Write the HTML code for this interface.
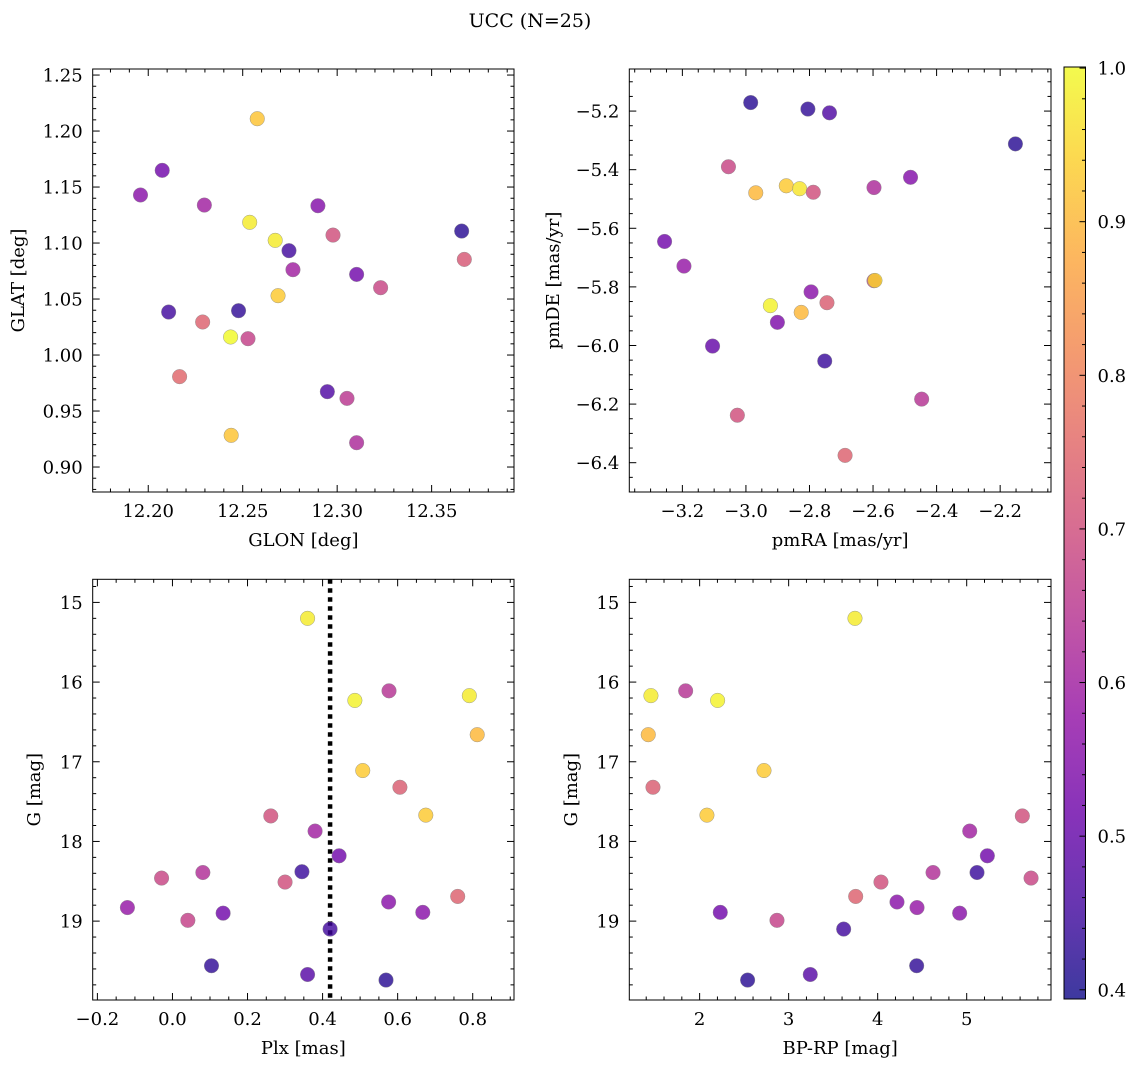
<!DOCTYPE html>
<html><head><meta charset="utf-8">
<style>
html,body{margin:0;padding:0;background:#fff;}
svg{display:block;}
text{font-family:"DejaVu Serif","Liberation Serif",serif;fill:#000;}
</style></head>
<body>
<svg id="fig" width="1136" height="1067" viewBox="0 0 1136 1067" xmlns="http://www.w3.org/2000/svg">
<defs>
<linearGradient id="cmapgrad" x1="0" y1="1" x2="0" y2="0"></linearGradient>
</defs>
<text x="530" y="27" font-size="19" text-anchor="middle">UCC (N=25)</text>
</svg>
<script>
// Panel 1: GLON vs GLAT
const glonP1 = [12.2577,12.2074,12.1959,12.2297,12.2898,12.2537,12.2978,12.3659,12.2672,12.2745,12.2766,12.3673,12.3103,12.3230,12.2687,12.2108,12.2478,12.2288,12.2436,12.2528,12.2166,12.2948,12.3052,12.2439,12.3103];
const glatP1 = [1.211,1.1649,1.1429,1.1339,1.1333,1.1185,1.1071,1.1107,1.1024,1.0932,1.0762,1.0854,1.072,1.0601,1.053,1.0384,1.0396,1.0295,1.0161,1.0146,0.9807,0.9673,0.9613,0.9283,0.9217];
const probP1 = [0.92,0.52,0.56,0.60,0.55,0.98,0.70,0.42,0.98,0.45,0.60,0.72,0.52,0.68,0.93,0.45,0.43,0.74,1.00,0.67,0.75,0.47,0.65,0.92,0.62];
// Panel 2: pmRA vs pmDE
const pmraP2 = [-2.985,-2.805,-2.737,-2.152,-3.055,-2.482,-2.597,-2.873,-2.831,-2.788,-2.969,-3.256,-3.195,-2.597,-2.594,-2.795,-2.745,-2.923,-2.826,-2.901,-3.105,-2.752,-2.447,-3.027,-2.688];
const pmdeP2 = [-5.171,-5.193,-5.206,-5.312,-5.390,-5.426,-5.461,-5.455,-5.465,-5.477,-5.479,-5.645,-5.729,-5.779,-5.778,-5.817,-5.854,-5.864,-5.887,-5.921,-6.002,-6.053,-6.183,-6.238,-6.375];
const probP2 = [0.42,0.43,0.47,0.42,0.68,0.55,0.62,0.93,0.97,0.70,0.90,0.52,0.58,0.68,0.95,0.56,0.73,0.99,0.90,0.54,0.50,0.44,0.64,0.70,0.74];
// Panel 3: Plx vs G
const plxP3 = [0.360,0.577,0.486,0.791,0.812,0.507,0.606,0.262,0.675,0.380,0.444,-0.029,0.081,0.300,0.345,-0.120,0.041,0.135,0.576,0.667,0.760,0.420,0.104,0.360,0.569];
const gP3 = [15.20,16.11,16.23,16.17,16.66,17.11,17.32,17.68,17.67,17.87,18.18,18.46,18.39,18.51,18.38,18.83,18.99,18.90,18.76,18.89,18.69,19.10,19.56,19.67,19.74];
const probP3 = [0.98,0.64,0.99,0.98,0.90,0.93,0.73,0.70,0.93,0.60,0.52,0.68,0.63,0.70,0.44,0.58,0.67,0.52,0.56,0.56,0.74,0.45,0.43,0.48,0.42];
const plxCut = [0.42];
// Panel 4: BP-RP vs G
const bprpP4 = [3.745,1.453,1.843,2.202,1.423,2.723,1.476,2.082,5.625,5.034,5.232,5.116,4.622,5.723,4.037,3.753,4.217,4.442,4.921,2.232,2.869,3.618,4.438,3.243,2.539];
const gP4 = [15.20,16.17,16.11,16.23,16.66,17.11,17.32,17.67,17.68,17.87,18.18,18.39,18.39,18.46,18.51,18.69,18.76,18.83,18.90,18.89,18.99,19.10,19.56,19.67,19.74];
const probP4 = [0.98,0.98,0.64,0.99,0.90,0.93,0.73,0.93,0.70,0.60,0.52,0.44,0.63,0.68,0.70,0.74,0.56,0.58,0.56,0.52,0.67,0.45,0.43,0.48,0.42];
// Colorbar ticks
const cbTicks = [0.4,0.5,0.6,0.7,0.8,0.9,1.0];

const NS = 'http://www.w3.org/2000/svg';
const svg = document.getElementById('fig');
const VMIN = 0.394, VMAX = 1.0007;
const FS = 18;
const plasma = ['#0d0887','#41049d','#6a00a8','#8f0da4','#b12a90','#cc4778','#e16462','#f2844b','#fca636','#fcce25','#f0f921'];
function hex2rgb(h){return [parseInt(h.slice(1,3),16),parseInt(h.slice(3,5),16),parseInt(h.slice(5,7),16)];}
function cmap(v){
  let t=(v-VMIN)/(VMAX-VMIN); t=Math.max(0,Math.min(1,t));
  const f=t*10, i=Math.min(9,Math.floor(f)), r=f-i;
  const a=hex2rgb(plasma[i]), b=hex2rgb(plasma[i+1]);
  const c=a.map((x,k)=>Math.round(x+(b[k]-x)*r));
  return 'rgb('+c.join(',')+')';
}
function el(tag, attrs){const e=document.createElementNS(NS,tag);for(const k in attrs)e.setAttribute(k,attrs[k]);return e;}
function fmt(v,d){let s=v.toFixed(d);if(v<0)s='\u2212'+s.slice(1);return s;}

function panel(cfg){
  const g=el('g',{});
  
  
  svg.appendChild(g);
  const {L,R,T,B}=cfg;
  const sx=v=>L+(v-cfg.x0)/(cfg.x1-cfg.x0)*(R-L);
  const sy=cfg.yinv ? (v=>T+(v-cfg.y0)/(cfg.y1-cfg.y0)*(B-T)) : (v=>B-(v-cfg.y0)/(cfg.y1-cfg.y0)*(B-T));
  const tk=el('g',{stroke:'#000','stroke-width':1});
  
  
  g.appendChild(tk);
  const xlo=Math.min(cfg.x0,cfg.x1), xhi=Math.max(cfg.x0,cfg.x1);
  for(let k=Math.ceil(xlo/cfg.xmin-1e-6);k*cfg.xmin<=xhi+1e-9;k++){
    const v=k*cfg.xmin, x=sx(v);
    const major=Math.abs(v/cfg.xmaj-Math.round(v/cfg.xmaj))<1e-4;
    const len=major?7:3.5;
    tk.appendChild(el('line',{x1:x,x2:x,y1:B,y2:B-len}));
    tk.appendChild(el('line',{x1:x,x2:x,y1:T,y2:T+len}));
    if(major){
      const t=el('text',{x:x,y:B+25,'font-size':FS,'text-anchor':'middle'});
      
      
      t.textContent=fmt(v,cfg.xdec); g.appendChild(t);
    }
  }
  const ylo=Math.min(cfg.y0,cfg.y1), yhi=Math.max(cfg.y0,cfg.y1);
  for(let k=Math.ceil(ylo/cfg.ymin-1e-6);k*cfg.ymin<=yhi+1e-9;k++){
    const v=k*cfg.ymin, y=sy(v);
    const major=Math.abs(v/cfg.ymaj-Math.round(v/cfg.ymaj))<1e-4;
    const len=major?7:3.5;
    tk.appendChild(el('line',{x1:L,x2:L+len,y1:y,y2:y}));
    tk.appendChild(el('line',{x1:R,x2:R-len,y1:y,y2:y}));
    if(major){
      const t=el('text',{x:L-10,y:y+6.5,'font-size':FS,'text-anchor':'end'});
      
      
      t.textContent=fmt(v,cfg.ydec); g.appendChild(t);
    }
  }
  if(cfg.vline){
    cfg.vline.forEach(v=>{
      const ln=el('line',{x1:sx(v),x2:sx(v),y1:T,y2:B,stroke:'#000','stroke-width':4.5,'stroke-dasharray':'4.5 4.5'});
      
      
      g.appendChild(ln);
    });
  }
  for(let i=0;i<cfg.xs.length;i++){
    const c=el('circle',{cx:sx(cfg.xs[i]),cy:sy(cfg.ys[i]),r:7.3,fill:cmap(cfg.cs[i]),'fill-opacity':0.8,stroke:'#888','stroke-width':0.5,'stroke-opacity':0.8});
    
    
    g.appendChild(c);
  }
  const fr=el('rect',{x:L,y:T,width:R-L,height:B-T,fill:'none',stroke:'#000','stroke-width':1});
  
  
  g.appendChild(fr);
  const xl=el('text',{x:(L+R)/2,y:B+54,'font-size':FS,'text-anchor':'middle'});
  
  
  xl.textContent=cfg.xlabel; g.appendChild(xl);
  const yx=cfg.ylabX, yy=(T+B)/2;
  const yl=el('text',{x:yx,y:yy,'font-size':FS,'text-anchor':'middle',transform:'rotate(-90 '+yx+' '+yy+')'});
  
  
  yl.textContent=cfg.ylabel; g.appendChild(yl);
}

panel({name:'glon-glat-panel',L:92.7,R:514,T:69,B:492,x0:12.1706,x1:12.3936,y0:0.8777,y1:1.2554,xmaj:0.05,xmin:0.01,ymaj:0.05,ymin:0.01,xdec:2,ydec:2,xs:glonP1,ys:glatP1,cs:probP1,xlabel:'GLON [deg]',ylabel:'GLAT [deg]',ylabX:24});
panel({name:'pm-panel',L:629.3,R:1051,T:69,B:492,x0:-3.367,x1:-2.04,y0:-6.5,y1:-5.0564,xmaj:0.2,xmin:0.05,ymaj:0.2,ymin:0.05,xdec:1,ydec:1,xs:pmraP2,ys:pmdeP2,cs:probP2,xlabel:'pmRA [mas/yr]',ylabel:'pmDE [mas/yr]',ylabX:559});
panel({name:'plx-g-panel',L:92.7,R:514,T:579.3,B:1000,x0:-0.2125,x1:0.91,y0:14.71,y1:19.99,yinv:true,xmaj:0.2,xmin:0.05,ymaj:1,ymin:0.2,xdec:1,ydec:0,xs:plxP3,ys:gP3,cs:probP3,vline:plxCut,xlabel:'Plx [mas]',ylabel:'G [mag]',ylabX:40});
panel({name:'cmd-panel',L:629.3,R:1051,T:579.3,B:1000,x0:1.21,x1:5.947,y0:14.71,y1:19.99,yinv:true,xmaj:1,xmin:0.2,ymaj:1,ymin:0.2,xdec:0,ydec:0,xs:bprpP4,ys:gP4,cs:probP4,xlabel:'BP-RP [mag]',ylabel:'G [mag]',ylabX:577});

// colorbar
(function(){
  const grad=document.getElementById('cmapgrad');
  for(let i=0;i<=20;i++){
    const v=VMIN+(VMAX-VMIN)*i/20;
    grad.appendChild(el('stop',{offset:(i/20),'stop-color':cmap(v),'stop-opacity':0.8}));
  }
  const L=1064,R=1085.5,T=67,B=999;
  const sy=v=>B-(v-VMIN)/(VMAX-VMIN)*(B-T);
  const g=el('g',{});
  
  
  svg.appendChild(g);
  g.appendChild(el('rect',{x:L,y:T,width:R-L,height:B-T,fill:'url(#cmapgrad)',stroke:'#000','stroke-width':1}));
  for(let k=20;k<=50;k++){
    const v=k*0.02; if(v<VMIN-1e-9||v>VMAX+1e-9)continue;
    const y=sy(v); const major=(k%5===0);
    g.appendChild(el('line',{x1:R,x2:R-(major?6:3.5),y1:y,y2:y,stroke:'#000','stroke-width':1}));
  }
  cbTicks.forEach(v=>{
    const t=el('text',{x:R+12,y:sy(v)+6.5,'font-size':FS});
    
    
    t.textContent=v.toFixed(1); g.appendChild(t);
  });
})();
</script>
</body></html>
